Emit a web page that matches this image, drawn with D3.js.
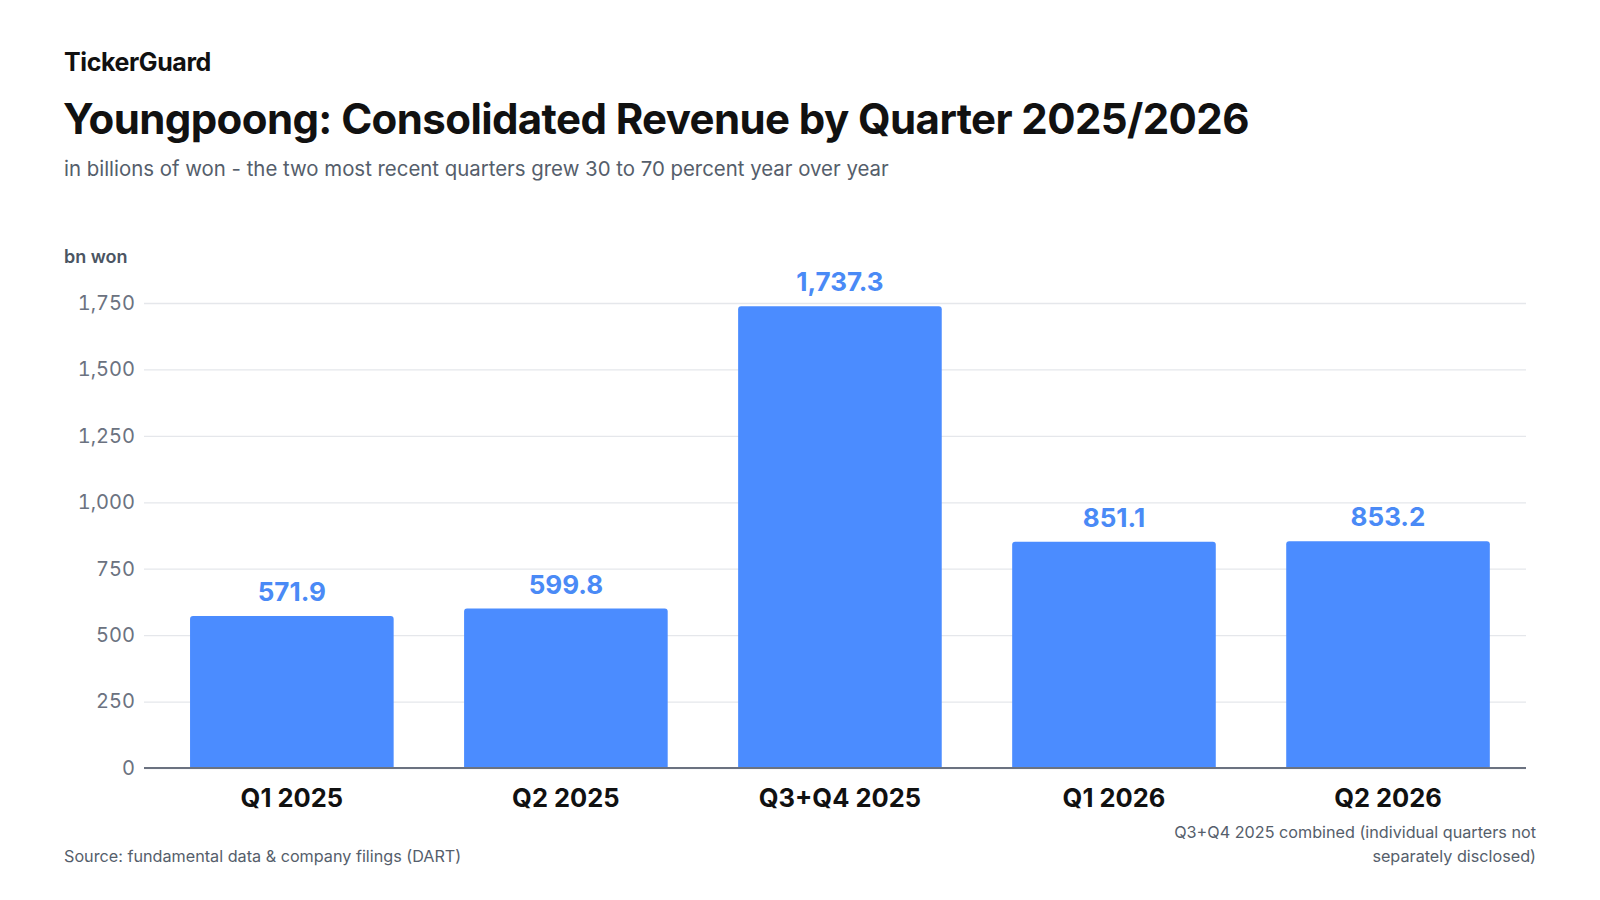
<!DOCTYPE html>
<html>
<head>
<meta charset="utf-8">
<script src="https://cdn.jsdelivr.net/npm/d3@7"></script>
<style>
  body { margin: 0; background: #fff; }
  svg { font-family: Inter, "Noto Sans", sans-serif; }
</style>
</head>
<body>
<svg width="1600" height="900"></svg>
<script>
const categories = ["Q1 2025", "Q2 2025", "Q3+Q4 2025", "Q1 2026", "Q2 2026"];
const revenue = [571.9, 599.8, 1737.3, 851.1, 853.2];
const yTicks = [0, 250, 500, 750, 1000, 1250, 1500, 1750];

const svg = d3.select("svg");
const area = { left: 144, right: 1526, top: 303, bottom: 768 };

const scX = d3.scaleBand()
  .domain(categories)
  .range([area.left, area.right])
  .paddingInner(0.257)
  .paddingOuter(0.15)
  .align(0.56);

const scY = d3.scaleLinear()
  .domain([0, 1750])
  .range([area.bottom, area.top]);

// header
svg.append("text").attr("x", 64).attr("y", 71)
  .style("font-size", "25px").style("font-weight", 700)
  .style("fill", "#111").style("letter-spacing", "-0.4px")
  .text("TickerGuard");
svg.append("text").attr("x", 63).attr("y", 134)
  .style("font-size", "42px").style("font-weight", 700)
  .style("fill", "#111").style("letter-spacing", "-0.6px")
  .text("Youngpoong: Consolidated Revenue by Quarter 2025/2026");
svg.append("text").attr("x", 64).attr("y", 176)
  .style("font-size", "20.4px").style("fill", "#555e6b")
  .text("in billions of won - the two most recent quarters grew 30 to 70 percent year over year");
svg.append("text").attr("x", 64).attr("y", 263)
  .style("font-size", "18px").style("font-weight", 600).style("fill", "#4b5563")
  .text("bn won");

// grid + y axis
const axisY = d3.axisLeft(scY)
  .tickValues(yTicks)
  .tickSize(-(area.right - area.left))
  .tickPadding(9)
  .tickFormat(d3.format(","));

const gy = svg.append("g")
  .attr("transform", `translate(${area.left},0)`)
  .call(axisY);
gy.select(".domain").remove();
gy.selectAll(".tick line").attr("stroke", "#e5e7eb").attr("stroke-width", 1.3);
gy.selectAll(".tick text")
  .style("font-family", "Inter, sans-serif")
  .style("font-variant-numeric", "tabular-nums")
  .style("font-size", "20px").style("fill", "#6b7280");

// bars, rounded on top only
const r = 3;
svg.append("g")
  .selectAll("path")
  .data(revenue)
  .enter()
  .append("path")
  .attr("d", (d, i) => {
    const x0 = scX(categories[i]);
    const x1 = x0 + scX.bandwidth();
    const y0 = scY(d);
    const yb = scY(0);
    return `M${x0},${yb}V${y0 + r}Q${x0},${y0} ${x0 + r},${y0}` +
      `H${x1 - r}Q${x1},${y0} ${x1},${y0 + r}V${yb}Z`;
  })
  .style("fill", "#4b8cff");

// value labels
svg.append("g")
  .selectAll("text")
  .data(revenue)
  .enter()
  .append("text")
  .attr("x", (d, i) => scX(categories[i]) + scX.bandwidth() / 2)
  .attr("y", (d) => scY(d) - 15)
  .attr("text-anchor", "middle")
  .style("font-size", "26px").style("font-weight", 700)
  .style("fill", "#4a8af6")
  .text((d) => d3.format(",.1f")(d));

// x axis
const axisX = d3.axisBottom(scX).tickSize(0);
const gx = svg.append("g")
  .attr("transform", `translate(0,${area.bottom})`)
  .call(axisX);
gx.select(".domain").attr("stroke", "#6b7280").attr("stroke-width", 2)
  .attr("d", `M${area.left},0H${area.right}`);
gx.selectAll(".tick text")
  .attr("y", 39).attr("dy", null)
  .style("font-family", "Inter, sans-serif")
  .style("font-size", "25.5px").style("font-weight", 700)
  .style("fill", "#111");

// footer
svg.append("text").attr("x", 64).attr("y", 862)
  .style("font-size", "16.2px").style("fill", "#555e6b")
  .text("Source: fundamental data & company filings (DART)");
const note = svg.append("text").attr("text-anchor", "end")
  .style("font-size", "16.2px").style("fill", "#555e6b");
note.append("tspan").attr("x", 1536).attr("y", 838)
  .text("Q3+Q4 2025 combined (individual quarters not");
note.append("tspan").attr("x", 1536).attr("y", 862)
  .text("separately disclosed)");
</script>
</body>
</html>
